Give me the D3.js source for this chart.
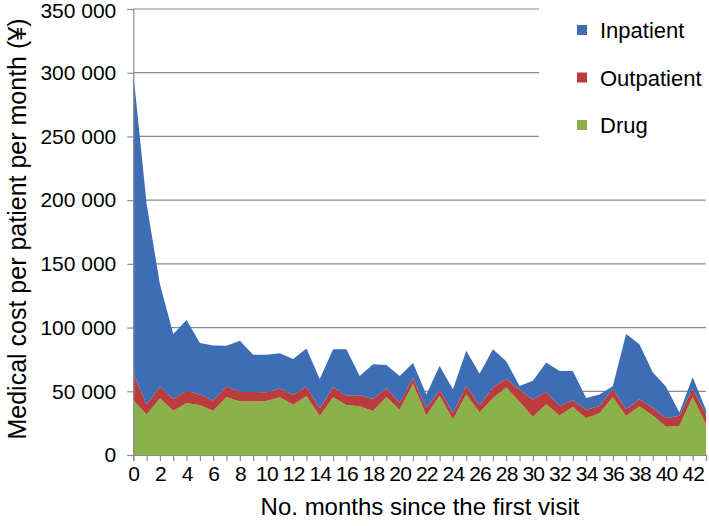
<!DOCTYPE html>
<html>
<head>
<meta charset="utf-8">
<script src="https://cdn.jsdelivr.net/npm/d3@7"></script>
<style>
  body { margin: 0; background: #fff; }
  svg { display: block; font-family: "Liberation Sans", Arial, sans-serif; }
</style>
</head>
<body>
<svg id="chart" width="709" height="526"></svg>
<script>
// months since first visit
const months = d3.range(0, 44);

// cost per patient per month (yen)
const drug = [43000, 31800, 44500, 34700, 40800, 39000, 34700, 45500, 41900, 42000,
  42400, 45300, 39500, 46300, 30600, 45300, 39200, 38200, 34500, 45500,
  35600, 56000, 31000, 46500, 27800, 47700, 33500, 44500, 53200, 41800,
  30100, 39900, 31000, 37600, 28800, 32700, 45400, 30600, 38200, 31000,
  22200, 22800, 45500, 24000];
const outpatient = [21500, 7800, 9000, 9200, 9700, 8500, 8000, 8300, 7800, 7400,
  6800, 6900, 7700, 7300, 6000, 7800, 7400, 8700, 9500, 6800,
  5500, 4500, 5600, 4500, 4900, 6500, 5500, 8500, 6600, 9400,
  13400, 9800, 7500, 5300, 6800, 5800, 6500, 5400, 5500, 6000,
  6600, 8000, 6500, 7800];
const inpatient = [235500, 157400, 80500, 51000, 55500, 40300, 43300, 32000, 40000, 29300,
  29500, 27600, 28100, 30000, 23000, 29800, 36300, 15000, 27200, 18300,
  20900, 11700, 10900, 18800, 18800, 27700, 24800, 30000, 13700, 3000,
  14800, 22800, 27400, 23000, 9100, 9000, 2000, 59000, 43200, 28000,
  24800, 2600, 9000, 3500];

const yTicks = [0, 50000, 100000, 150000, 200000, 250000, 300000, 350000];
const seriesNames = ["Drug", "Outpatient", "Inpatient"];
const colors = { Drug: "#8bb24a", Outpatient: "#bb3c3c", Inpatient: "#3d6db4" };

const svg = d3.select("#chart");
const x = d3.scaleLinear().domain([0, 43]).range([133.3, 706]);
const y = d3.scaleLinear().domain([0, 350000]).range([455, 9]);

const rows = months.map((m, i) => ({
  month: m, Drug: drug[i], Outpatient: outpatient[i], Inpatient: inpatient[i]
}));
const stacked = d3.stack().keys(seriesNames)(rows);

// gridlines
svg.append("g")
  .selectAll("line")
  .data(yTicks.slice(1))
  .join("line")
  .attr("x1", x(0)).attr("x2", x(43))
  .attr("y1", d => y(d)).attr("y2", d => y(d))
  .attr("stroke", "#8c8c8c").attr("stroke-width", 1.2);

// stacked areas
const area = d3.area()
  .x(d => x(d.data.month))
  .y0(d => y(d[0]))
  .y1(d => y(d[1]));

svg.append("g")
  .selectAll("path")
  .data(stacked)
  .join("path")
  .attr("d", area)
  .attr("fill", d => colors[d.key]);

// axes
const fmt = v => d3.format(",")(v).replace(/,/g, " ");

const yAxis = svg.append("g")
  .attr("transform", `translate(${x(0)},0)`)
  .call(d3.axisLeft(y).tickValues(yTicks).tickFormat(fmt).tickSize(6).tickPadding(11));

const xAxis = svg.append("g")
  .attr("transform", `translate(0,${y(0)})`)
  .call(d3.axisBottom(x).tickValues(months)
    .tickFormat(d => d % 2 === 0 ? d : "").tickSize(6).tickPadding(5));

[yAxis, xAxis].forEach(ax => {
  ax.select(".domain").attr("stroke", "#8c8c8c").attr("stroke-width", 1.2);
  ax.selectAll(".tick line").attr("stroke", "#8c8c8c").attr("stroke-width", 1.2);
  ax.selectAll(".tick text")
    .attr("fill", "#000")
    .attr("font-size", 21)
    .attr("font-family", "Liberation Sans, Arial, sans-serif");
});
xAxis.selectAll(".tick text").attr("letter-spacing", -0.8);
// keep the top label inside the frame
yAxis.selectAll(".tick text").filter(d => d === 350000).attr("dy", "0.42em");

// axis titles
svg.append("text")
  .attr("x", 420).attr("y", 515)
  .attr("text-anchor", "middle")
  .attr("font-size", 24)
  .text("No. months since the first visit");

svg.append("text")
  .attr("transform", "translate(26,229) rotate(-90)")
  .attr("text-anchor", "middle")
  .attr("font-size", 25)
  .text("Medical cost per patient per month (¥)");

// legend (white box covers gridlines)
const legend = svg.append("g");
legend.append("rect")
  .attr("x", 539).attr("y", 0).attr("width", 170).attr("height", 160)
  .attr("fill", "#fff");

const legendItems = ["Inpatient", "Outpatient", "Drug"];
const li = legend.selectAll("g.item")
  .data(legendItems)
  .join("g")
  .attr("class", "item")
  .attr("transform", (d, i) => `translate(577,${30 + i * 47.5})`);

li.append("rect")
  .attr("x", 0).attr("y", -5).attr("width", 10).attr("height", 10)
  .attr("fill", d => colors[d]);

li.append("text")
  .attr("x", 23).attr("y", 8)
  .attr("font-size", 22)
  .text(d => d);
</script>
</body>
</html>
